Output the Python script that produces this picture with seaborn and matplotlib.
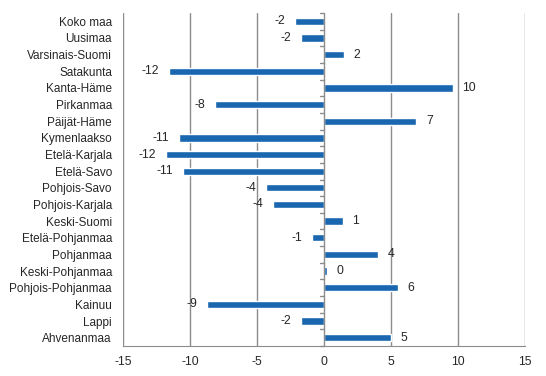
import matplotlib
matplotlib.use('Agg')
import matplotlib.pyplot as plt
import seaborn as sns
import pandas as pd

# Regions and change values
regions = ['Koko maa', 'Uusimaa', 'Varsinais-Suomi', 'Satakunta', 'Kanta-Häme',
           'Pirkanmaa', 'Päijät-Häme', 'Kymenlaakso', 'Etelä-Karjala', 'Etelä-Savo',
           'Pohjois-Savo', 'Pohjois-Karjala', 'Keski-Suomi', 'Etelä-Pohjanmaa',
           'Pohjanmaa', 'Keski-Pohjanmaa', 'Pohjois-Pohjanmaa', 'Kainuu', 'Lappi',
           'Ahvenanmaa']
values = [-2.2, -1.7, 1.5, -11.6, 9.6, -8.1, 6.9, -10.8, -11.8, -10.5,
          -4.3, -3.8, 1.4, -0.9, 4.0, 0.2, 5.5, -8.7, -1.7, 5.0]
labels = ['-2', '-2', '2', '-12', '10', '-8', '7', '-11', '-12', '-11',
          '-4', '-4', '1', '-1', '4', '0', '6', '-9', '-2', '5']
xticks = [-15, -10, -5, 0, 5, 10, 15]

df = pd.DataFrame({'region': regions, 'value': values})

sns.set_style('white')
plt.rcParams['font.family'] = ['Liberation Sans', 'DejaVu Sans']

fig = plt.figure(figsize=(5.46, 3.76), dpi=100)
ax = fig.add_axes([123 / 546, 30 / 376, 402 / 546, 333 / 376])

sns.barplot(data=df, x='value', y='region', orient='h', color='#1a67b0',
            saturation=1, width=0.44, ax=ax)

ax.bar_label(ax.containers[0], labels=labels, padding=7, fontsize=8.8)

ax.set_xlim(-15, 15)
ax.set_ylim(len(regions) - 0.5, -0.5)
ax.set_xticks(xticks)
ax.set_xticklabels([str(t) for t in xticks], fontsize=8.8)
ax.set_xlabel('')
ax.set_ylabel('')
ax.tick_params(axis='y', length=0, labelsize=8.5, pad=8)
ax.tick_params(axis='x', length=4, color='#888888', direction='out', pad=3)

# vertical gridlines
for t in xticks:
    if t != 0:
        ax.axvline(t, color='#8c8c8c', lw=1, zorder=0)
ax.axvline(0, color='#8c8c8c', lw=1, zorder=3)

# category boundary ticks on the zero line
for i in range(len(regions) + 1):
    ax.plot([-0.3, 0], [i - 0.5, i - 0.5], color='#8c8c8c', lw=1,
            zorder=3, clip_on=False)

for side in ['top', 'right', 'left']:
    ax.spines[side].set_visible(False)
ax.spines['bottom'].set_color('#8c8c8c')

fig.savefig('out.png', dpi=100)
